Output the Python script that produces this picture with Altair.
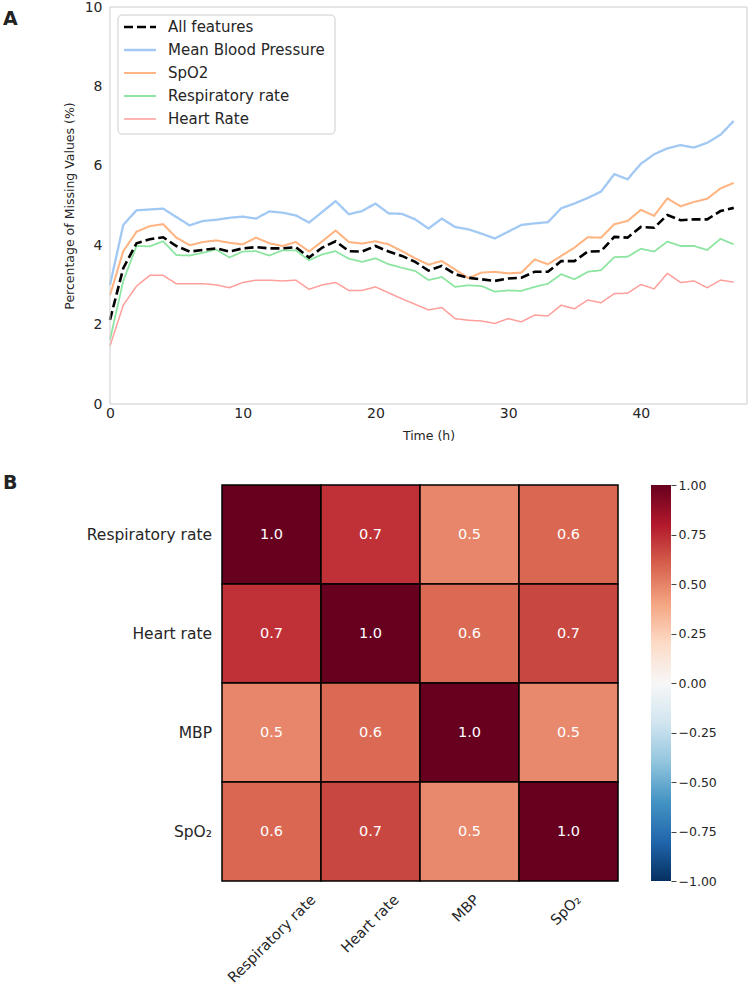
import altair as alt
import pandas as pd

# ---------------- data: panel A ----------------
hours = list(range(48))
all_features = [2.12, 3.42, 4.05, 4.15, 4.20, 3.98, 3.84, 3.88, 3.92, 3.84, 3.92, 3.95,
                3.92, 3.92, 3.95, 3.69, 3.94, 4.10, 3.85, 3.84, 3.98, 3.84, 3.73, 3.58,
                3.36, 3.48, 3.27, 3.18, 3.14, 3.10, 3.16, 3.18, 3.33, 3.33, 3.60, 3.60,
                3.84, 3.85, 4.21, 4.19, 4.46, 4.44, 4.76, 4.63, 4.65, 4.65, 4.86, 4.94]
mean_bp = [3.00, 4.51, 4.88, 4.90, 4.92, 4.71, 4.50, 4.61, 4.64, 4.69, 4.72, 4.67,
           4.85, 4.82, 4.75, 4.57, 4.84, 5.11, 4.78, 4.86, 5.05, 4.80, 4.79, 4.65,
           4.42, 4.67, 4.46, 4.40, 4.29, 4.17, 4.34, 4.51, 4.55, 4.58, 4.93, 5.05,
           5.19, 5.35, 5.79, 5.66, 6.05, 6.29, 6.44, 6.52, 6.46, 6.58, 6.78, 7.13]
spo2 = [2.74, 3.85, 4.34, 4.48, 4.53, 4.19, 4.00, 4.08, 4.12, 4.06, 4.02, 4.19,
        4.05, 3.98, 4.08, 3.84, 4.10, 4.37, 4.08, 4.04, 4.10, 4.02, 3.85, 3.67,
        3.51, 3.60, 3.39, 3.17, 3.31, 3.33, 3.29, 3.31, 3.64, 3.52, 3.73, 3.94,
        4.20, 4.19, 4.53, 4.61, 4.89, 4.74, 5.18, 4.98, 5.09, 5.17, 5.43, 5.57]
resp_rate = [1.62, 3.10, 3.98, 3.97, 4.10, 3.75, 3.74, 3.81, 3.89, 3.69, 3.84, 3.85,
             3.74, 3.87, 3.87, 3.62, 3.77, 3.85, 3.66, 3.58, 3.67, 3.52, 3.43, 3.35,
             3.12, 3.20, 2.95, 2.99, 2.97, 2.83, 2.86, 2.85, 2.95, 3.03, 3.27, 3.14,
             3.33, 3.37, 3.70, 3.71, 3.91, 3.84, 4.09, 3.98, 3.98, 3.88, 4.16, 4.02]
heart_rate = [1.46, 2.49, 2.97, 3.24, 3.24, 3.03, 3.03, 3.03, 3.00, 2.93, 3.06, 3.12,
              3.12, 3.10, 3.12, 2.89, 3.00, 3.06, 2.86, 2.86, 2.95, 2.80, 2.65, 2.51,
              2.37, 2.43, 2.15, 2.11, 2.09, 2.03, 2.15, 2.07, 2.24, 2.22, 2.49, 2.40,
              2.62, 2.55, 2.78, 2.79, 3.01, 2.90, 3.29, 3.06, 3.10, 2.93, 3.12, 3.07]

series_names = ["All features", "Mean Blood Pressure", "SpO2", "Respiratory rate", "Heart Rate"]
series_values = [all_features, mean_bp, spo2, resp_rate, heart_rate]
series_colors = ["#000000", "#a1c9f4", "#ffb482", "#8de5a1", "#ff9f9b"]
series_dash = [[9, 4], [1, 0], [1, 0], [1, 0], [1, 0]]
series_width = [2.6, 1.5, 1.5, 1.5, 1.5]
x_ticks = [0, 10, 20, 30, 40]
y_ticks = [0, 2, 4, 6, 8, 10]

# ---------------- data: panel B ----------------
heat_labels = ["Respiratory rate", "Heart rate", "MBP", "SpO₂"]
corr_values = [
    [1.00, 0.73, 0.49, 0.58],
    [0.73, 1.00, 0.57, 0.67],
    [0.49, 0.57, 1.00, 0.48],
    [0.58, 0.67, 0.48, 1.00],
]
cbar_ticks = [-1.0, -0.75, -0.5, -0.25, 0.0, 0.25, 0.5, 0.75, 1.0]
rdbu_r = ["#053061", "#2166ac", "#4393c3", "#92c5de", "#d1e5f0", "#f7f7f7",
          "#fddbc7", "#f4a582", "#d6604d", "#b2182b", "#67001f"]
rdbu_stops = [-1.0, -0.8, -0.6, -0.4, -0.2, 0.0, 0.2, 0.4, 0.6, 0.8, 1.0]

FONT = "DejaVu Sans"
TXT = "#262626"
PW, PH = 637, 397      # panel A plot size
CELL = 99               # heatmap cell size
NOVIEW = alt.ViewBackground(stroke="transparent", strokeWidth=0)

# ---------------- panel A ----------------
rows = []
for k in [1, 2, 3, 4, 0]:  # draw "All features" last (on top)
    for h, v in zip(hours, series_values[k]):
        rows.append({"hour": h, "pct": v, "series": series_names[k]})
lines_df = pd.DataFrame(rows)

color_sc = alt.Scale(domain=series_names, range=series_colors)
dash_sc = alt.Scale(domain=series_names, range=series_dash)
width_sc = alt.Scale(domain=series_names, range=series_width)

lines = alt.Chart(lines_df).mark_line().encode(
    x=alt.X("hour:Q", scale=alt.Scale(domain=[0, 48], nice=False, zero=False),
            axis=alt.Axis(values=x_ticks, title="Time (h)", grid=False, domain=False,
                          ticks=False, labelFlush=False, labelFontSize=14, labelPadding=2,
                          labelColor=TXT, titleFontSize=12.5, titleFontWeight="normal",
                          titleColor=TXT, titlePadding=9)),
    y=alt.Y("pct:Q", scale=alt.Scale(domain=[0, 10], nice=False),
            axis=alt.Axis(values=y_ticks, title="Percentage of Missing Values (%)",
                          grid=False, domain=False, ticks=False, labelFontSize=14,
                          labelPadding=8, labelColor=TXT, titleFontSize=12.5,
                          titleFontWeight="normal", titleColor=TXT, titlePadding=8)),
    color=alt.Color("series:N", scale=color_sc, legend=None),
    strokeDash=alt.StrokeDash("series:N", scale=dash_sc, legend=None),
    strokeWidth=alt.StrokeWidth("series:N", scale=width_sc, legend=None),
)

frame = alt.Chart(pd.DataFrame({"f": [0]})).mark_rect(
    fill=None, stroke="#cccccc", strokeWidth=1
).encode(x=alt.value(0), x2=alt.value(PW), y=alt.value(0), y2=alt.value(PH))

# legend (box, line samples, labels) drawn in the plot's upper-left corner
legend_df = pd.DataFrame({"series": series_names})
legend_y = alt.Y("series:N", sort=series_names, axis=None,
                 scale=alt.Scale(type="point", range=[20, 112], padding=0))
legend_box = alt.Chart(pd.DataFrame({"f": [0]})).mark_rect(
    fill="white", stroke="#cccccc", strokeWidth=1, cornerRadius=4
).encode(x=alt.value(8), x2=alt.value(225), y=alt.value(8), y2=alt.value(127))
legend_lines = alt.Chart(legend_df).mark_rule().encode(
    x=alt.value(14), x2=alt.value(46), y=legend_y,
    color=alt.Color("series:N", scale=color_sc, legend=None),
    strokeDash=alt.StrokeDash("series:N", scale=dash_sc, legend=None),
    strokeWidth=alt.StrokeWidth("series:N", scale=width_sc, legend=None),
)
legend_text = alt.Chart(legend_df).mark_text(
    align="left", baseline="middle", fontSize=15, font=FONT, color=TXT
).encode(x=alt.value(58), y=legend_y, text="series:N")

a_label = alt.Chart(pd.DataFrame({"t": ["A"]})).mark_text(
    align="left", baseline="alphabetic", fontSize=19, fontWeight="bold", font=FONT, color="#222222"
).encode(text="t:N", x=alt.value(-107), y=alt.value(17.5))

panel_a = alt.layer(lines, frame, legend_box, legend_lines, legend_text, a_label).resolve_scale(
    y="independent"
).properties(width=PW, height=PH, view=NOVIEW)

# ---------------- panel B ----------------
heat_df = pd.DataFrame([
    {"row": r, "col": c, "r": corr_values[i][j]}
    for i, r in enumerate(heat_labels) for j, c in enumerate(heat_labels)
])

cells = alt.Chart(heat_df).mark_rect(stroke="black", strokeWidth=1.5).encode(
    x=alt.X("col:N", sort=heat_labels,
            axis=alt.Axis(labels=False, title=None, domain=False, ticks=True, tickSize=5,
                          tickColor="#444444", tickWidth=1)),
    y=alt.Y("row:N", sort=heat_labels, axis=None),
    color=alt.Color("r:Q", scale=alt.Scale(domain=rdbu_stops, range=rdbu_r, interpolate="rgb"),
                    legend=None),
)

annot = alt.Chart(heat_df).mark_text(color="white", fontSize=14.5, font=FONT).encode(
    x=alt.X("col:N", sort=heat_labels, axis=None),
    y=alt.Y("row:N", sort=heat_labels, axis=None),
    text=alt.Text("r:Q", format=".1f"),
)

# rotated column labels, centred under each column (offset from the band start)
col_labels = alt.Chart(pd.DataFrame({"col": heat_labels})).transform_calculate(
    off=f"{CELL / 2} + 0.354 * (length(datum.col) * 7.5 - 14.5)"
).mark_text(angle=315, align="right", baseline="top", fontSize=14.5, font=FONT, color=TXT).encode(
    x=alt.X("col:N", sort=heat_labels, axis=None),
    xOffset=alt.XOffset("off:Q", scale=None),
    y=alt.value(4 * CELL + 12),
    text="col:N",
)

heatmap = alt.layer(cells, annot, col_labels).properties(
    width=4 * CELL, height=4 * CELL, view=NOVIEW)

# colour bar: one gradient-filled bar on a -1..1 scale with its own right axis
cbar_gradient = alt.Gradient(
    gradient="linear",
    stops=[alt.GradientStop(color=c, offset=(s + 1) / 2) for c, s in zip(rdbu_r, rdbu_stops)],
    x1=0, x2=0, y1=1, y2=0,
)
cbar = alt.Chart(pd.DataFrame({"lo": [cbar_ticks[0]], "hi": [cbar_ticks[-1]]})).mark_rect(
    fill=cbar_gradient, strokeWidth=0
).encode(
    x=alt.value(0), x2=alt.value(20),
    y=alt.Y("lo:Q", scale=alt.Scale(domain=[cbar_ticks[0], cbar_ticks[-1]], nice=False),
            axis=alt.Axis(orient="right", values=cbar_ticks, format=".2f", title=None,
                          domain=False, ticks=True, tickSize=5, tickColor="#444444",
                          tickWidth=1, labelFontSize=12.5, labelFont=FONT, labelColor=TXT,
                          labelPadding=2, labelFlush=False, grid=False)),
    y2="hi:Q",
).properties(width=20, height=4 * CELL, view=NOVIEW)

row_labels = alt.Chart(pd.DataFrame({"row": heat_labels})).mark_text(
    align="right", baseline="middle", fontSize=15.5, font=FONT, color=TXT
).encode(
    y=alt.Y("row:N", sort=heat_labels, axis=None),
    x=alt.value(102),
    text="row:N",
)
b_label = alt.Chart(pd.DataFrame({"t": ["B"]})).mark_text(
    align="left", baseline="alphabetic", fontSize=19, fontWeight="bold", font=FONT, color="#222222"
).encode(text="t:N", x=alt.value(-107), y=alt.value(4))

left_col = alt.layer(row_labels, b_label).properties(width=102, height=4 * CELL, view=NOVIEW)

panel_b = alt.hconcat(left_col, alt.hconcat(heatmap, cbar, spacing=32), spacing=9)

chart = alt.vconcat(panel_a, panel_b, spacing=32).properties(
    padding={"left": 3, "top": 0, "right": 0, "bottom": 0}
).configure_view(stroke="transparent", strokeWidth=0).configure(font=FONT, background="white")

chart.save("out.html", embed_options={"renderer": "svg", "actions": False})
